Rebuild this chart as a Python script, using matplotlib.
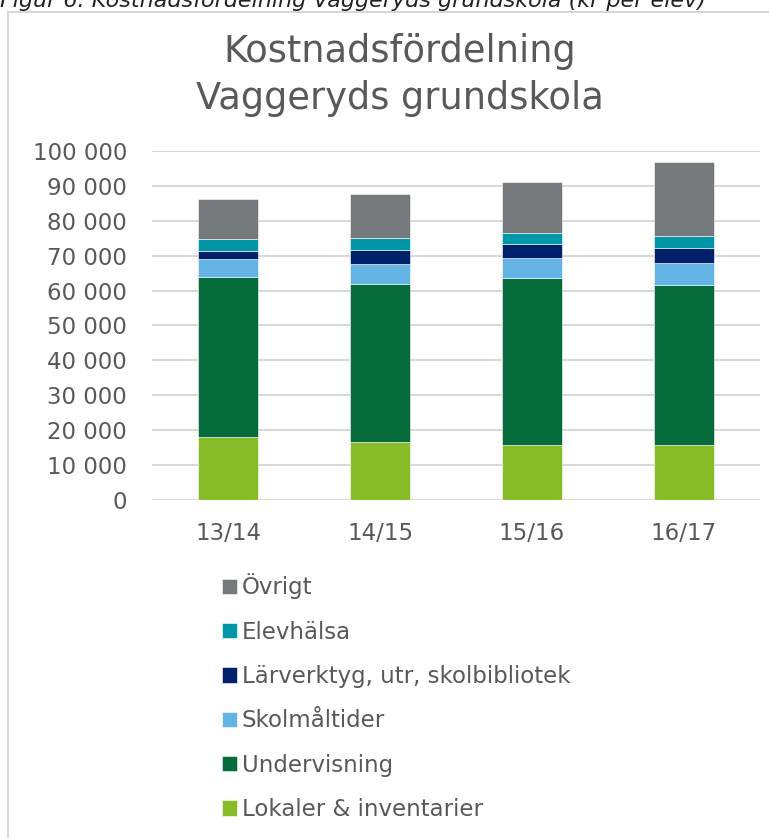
import matplotlib
matplotlib.use("Agg")
import matplotlib.pyplot as plt
from matplotlib.patches import Rectangle
from matplotlib.ticker import FuncFormatter

# data: kr per elev
years = ["13/14", "14/15", "15/16", "16/17"]
lokaler = [18100, 16700, 15700, 15800]
undervisning = [45700, 45300, 47800, 45800]
skolmaltider = [5300, 5500, 5800, 6300]
larverktyg = [2300, 4200, 4100, 4400]
elevhalsa = [3300, 3300, 3200, 3400]
ovrigt = [11500, 12700, 14400, 21100]

series = [("Lokaler & inventarier", lokaler, "#87bb27"),
          ("Undervisning", undervisning, "#056b3a"),
          ("Skolmåltider", skolmaltider, "#63b4e4"),
          ("Lärverktyg, utr, skolbibliotek", larverktyg, "#002169"),
          ("Elevhälsa", elevhalsa, "#0097a9"),
          ("Övrigt", ovrigt, "#76797b")]

TXT = "#595959"
GRID = "#d9d9d9"
FS = 16.5

plt.rcParams.update({"font.family": ["DejaVu Sans"], "text.color": TXT})

fig = plt.figure(figsize=(7.69, 8.38), dpi=100)

# chart frame and the caption above it (clipped by the page edge, as in the source)
fig.patches.append(Rectangle((8 / 769, -0.01), 1.0, 1 - 12 / 838 + 0.01,
                             transform=fig.transFigure, fill=False,
                             edgecolor="#d0d0d0", linewidth=1.2))
fig.text(0.0, 1 - 1 / 838, "Figur 6. Kostnadsfördelning Vaggeryds grundskola (kr per elev)",
         style="italic", fontsize=16, color="#222222", ha="left", va="center")

ax = fig.add_axes([152 / 769, 1 - 500 / 838, 608 / 769, 349 / 838])
x = range(len(years))
bottom = [0] * len(years)
handles = []
for name, vals, color in series:
    b = ax.bar(x, vals, bottom=bottom, width=0.39, color=color,
               edgecolor="white", linewidth=0.4, zorder=3, label=name)
    handles.append(b)
    bottom = [p + v for p, v in zip(bottom, vals)]

ax.set_xlim(-0.5, len(years) - 0.5)
ax.set_ylim(0, 100000)
ax.set_yticks(range(0, 100001, 10000))
ax.yaxis.set_major_formatter(FuncFormatter(lambda v, _: f"{int(v):,}".replace(",", " ")))
ax.set_xticks(list(x), years)
ax.grid(axis="y", color=GRID, linewidth=1.5, zorder=0)
ax.set_axisbelow(True)
for s in ax.spines.values():
    s.set_visible(False)
ax.tick_params(length=0, labelsize=FS, colors=TXT)
ax.tick_params(axis="y", pad=18)
ax.tick_params(axis="x", pad=16)

fig.text(400 / 769, 1 - 75 / 838, "Kostnadsfördelning\nVaggeryds grundskola",
         ha="center", va="center", fontsize=26.5, color=TXT, linespacing=1.33)

fig.legend(handles[::-1], [s[0] for s in series][::-1], loc="upper left",
           bbox_to_anchor=(201 / 769, 1 - 553 / 838), frameon=False,
           fontsize=FS, labelcolor=TXT, handlelength=0.66, handleheight=0.66,
           handletextpad=0.22, labelspacing=0.93)

fig.savefig("out.png", dpi=100)
